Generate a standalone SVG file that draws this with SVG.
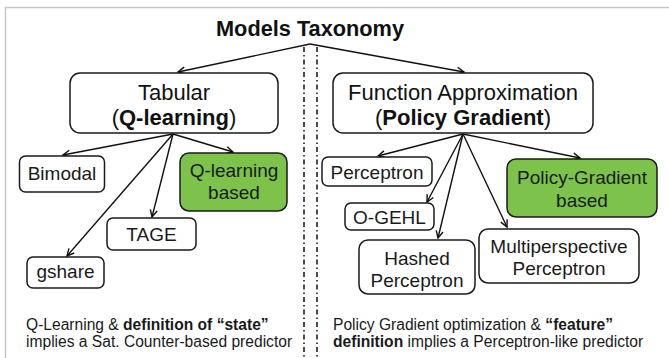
<svg xmlns="http://www.w3.org/2000/svg" width="669" height="358" viewBox="0 0 669 358">
<defs>
<marker id="ah" markerUnits="userSpaceOnUse" markerWidth="12" markerHeight="12" viewBox="-10 -6 12 12" refX="0" refY="0" orient="auto">
<path d="M-7,-3.5 L0,0 L-7,3.5" fill="none" stroke="#111" stroke-width="1.4"/>
</marker>
<style>
.frame{fill:none;stroke:#c8c8c8;stroke-width:1.5}
.div{fill:none;stroke:#111;stroke-width:1.5;stroke-dasharray:5 3 1.5 3}
.box{fill:#fff;stroke:#1a1a1a;stroke-width:1.5}
.green{fill:#7dc24b;stroke:#1a1a1a;stroke-width:1.5}
.lbl{font-family:"Liberation Sans",Arial,sans-serif;font-size:19px;fill:#1a1a1a;text-anchor:middle}
.big{font-family:"Liberation Sans",Arial,sans-serif;font-size:22px;fill:#111;text-anchor:middle}
.note{font-family:"Liberation Sans",Arial,sans-serif;font-size:15.6px;fill:#1a1a1a}
.title{font-family:"Liberation Sans",Arial,sans-serif;font-size:22px;font-weight:bold;fill:#111;text-anchor:middle}
.c line{stroke:#111;stroke-width:1.4;marker-end:url(#ah)}
</style>
</defs>
<rect width="669" height="358" fill="#fff"/>
<path class="frame" d="M5.5,358 V7.5 H669"/>
<line class="div" x1="304" y1="47" x2="304" y2="358"/>
<line class="div" x1="317" y1="47" x2="317" y2="358"/>

<text class="title" x="310" y="36" textLength="188" lengthAdjust="spacingAndGlyphs">Models Taxonomy</text>

<g class="c" id="connectors">
<line x1="310" y1="44" x2="178" y2="72"/>
<line x1="310" y1="44" x2="464" y2="72"/>
<line x1="173" y1="134" x2="63" y2="155"/>
<line x1="173" y1="134" x2="233" y2="152"/>
<line x1="173" y1="134" x2="152" y2="217"/>
<line x1="173" y1="134" x2="67" y2="256"/>
<line x1="463" y1="134" x2="378" y2="156"/>
<line x1="463" y1="134" x2="427" y2="202"/>
<line x1="463" y1="134" x2="438" y2="238"/>
<line x1="463" y1="134" x2="507" y2="227"/>
<line x1="463" y1="134" x2="580" y2="158"/>
</g>

<g id="tabular">
<rect class="box" x="70" y="73" width="208" height="60" rx="10"/>
<text class="big" x="174" y="100">Tabular</text>
<text class="big" x="174" y="125">(<tspan font-weight="bold">Q-learning</tspan>)</text>
</g>
<g id="funcapprox">
<rect class="box" x="333" y="73" width="260" height="60" rx="10"/>
<text class="big" x="463" y="100">Function Approximation</text>
<text class="big" x="463" y="125">(<tspan font-weight="bold">Policy Gradient</tspan>)</text>
</g>

<g id="bimodal">
<rect class="box" x="19.5" y="156" width="85" height="36" rx="6"/>
<text class="lbl" x="62" y="180">Bimodal</text>
</g>
<g id="qlearning">
<rect class="green" x="180" y="153" width="107" height="58" rx="9"/>
<text class="lbl" x="234" y="177">Q-learning</text>
<text class="lbl" x="234" y="199">based</text>
</g>
<g id="tage">
<rect class="box" x="107" y="218" width="89" height="32" rx="6"/>
<text class="lbl" x="151.5" y="241">TAGE</text>
</g>
<g id="gshare">
<rect class="box" x="27" y="257" width="77" height="31" rx="6"/>
<text class="lbl" x="65.5" y="278">gshare</text>
</g>

<g id="perceptron">
<rect class="box" x="322" y="157" width="110" height="29" rx="6"/>
<text class="lbl" x="377" y="179">Perceptron</text>
</g>
<g id="ogehl">
<rect class="box" x="345" y="203" width="89" height="27" rx="6"/>
<text class="lbl" x="389.5" y="224">O-GEHL</text>
</g>
<g id="hashed">
<rect class="box" x="359" y="240" width="116" height="54" rx="9"/>
<text class="lbl" x="417" y="265">Hashed</text>
<text class="lbl" x="417" y="287">Perceptron</text>
</g>
<g id="multi">
<rect class="box" x="479" y="229" width="160" height="54" rx="9"/>
<text class="lbl" x="559" y="253">Multiperspective</text>
<text class="lbl" x="559" y="275">Perceptron</text>
</g>
<g id="pgbased">
<rect class="green" x="507" y="159" width="150" height="58" rx="9"/>
<text class="lbl" x="582" y="184">Policy-Gradient</text>
<text class="lbl" x="582" y="207">based</text>
</g>

<text class="note" x="26" y="330">Q-Learning &amp; <tspan font-weight="bold">definition of “state”</tspan></text>
<text class="note" x="26" y="347">implies a Sat. Counter-based predictor</text>
<text class="note" x="333" y="330">Policy Gradient optimization &amp; <tspan font-weight="bold">“feature”</tspan></text>
<text class="note" x="333" y="347"><tspan font-weight="bold">definition</tspan> implies a Perceptron-like predictor</text>
</svg>
